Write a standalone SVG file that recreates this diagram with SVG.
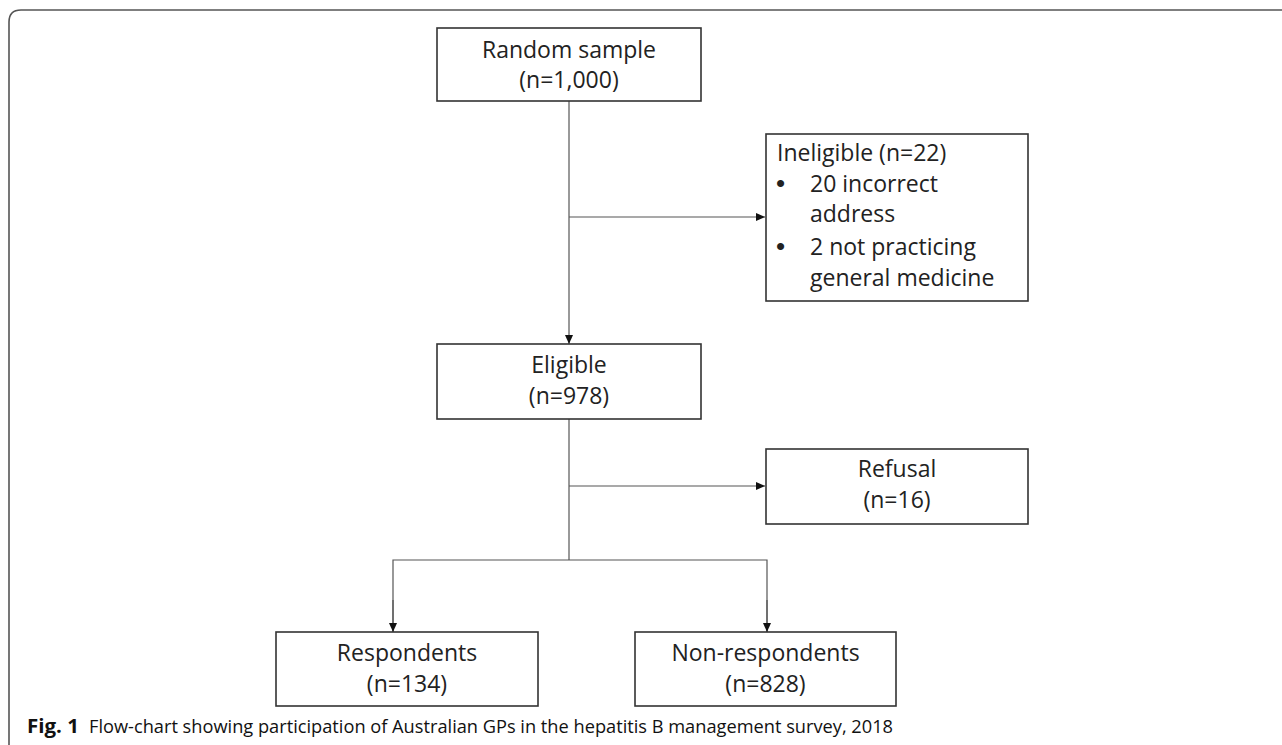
<svg xmlns="http://www.w3.org/2000/svg" width="1282" height="745" viewBox="0 0 1282 745">
<defs>
<style>
.box{fill:#fff;stroke:#333;stroke-width:1.6}
.t{font-family:"Open Sans","Liberation Sans",sans-serif;font-size:23px;fill:#222}
.b{font-family:"Liberation Sans","Open Sans",sans-serif;font-size:26px;fill:#222}
.c{text-anchor:middle}
.conn{fill:none;stroke:#555;stroke-width:1.2}
.cap{font-family:"Open Sans","Liberation Sans",sans-serif;font-size:19px;fill:#111}
</style>
<marker id="ah" markerWidth="10" markerHeight="10" refX="9" refY="4" orient="auto" markerUnits="userSpaceOnUse">
<path d="M0,0 L9,4 L0,8 Z" fill="#111"/>
</marker>
</defs>
<rect width="1282" height="745" fill="#fff"/>
<path d="M9,745 L9,22 Q9,10 21,10 L1282,10" fill="none" stroke="#555" stroke-width="1.6"/>
<g id="connectors">
<line class="conn" x1="569" y1="101" x2="569" y2="344" marker-end="url(#ah)"/>
<line class="conn" x1="569" y1="217" x2="765" y2="217" marker-end="url(#ah)"/>
<line class="conn" x1="569" y1="419" x2="569" y2="560"/>
<line class="conn" x1="569" y1="486" x2="765" y2="486" marker-end="url(#ah)"/>
<polyline class="conn" points="393,632 393,560 767,560 767,632"/>
<line class="conn" x1="393" y1="600" x2="393" y2="632" marker-end="url(#ah)"/>
<line class="conn" x1="767" y1="600" x2="767" y2="632" marker-end="url(#ah)"/>
</g>
<g id="random">
<rect class="box" x="437" y="28" width="264" height="73"/>
<text class="t c" x="569" y="58">Random sample</text>
<text class="t c" x="569" y="88">(n=1,000)</text>
</g>
<g id="ineligible">
<rect class="box" x="766" y="134" width="262" height="167"/>
<text class="t" x="777" y="161">Ineligible (n=22)</text>
<text class="b" x="776" y="192">•</text>
<text class="t" x="810" y="192">20 incorrect</text>
<text class="t" x="810" y="222">address</text>
<text class="b" x="776" y="255">•</text>
<text class="t" x="810" y="255">2 not practicing</text>
<text class="t" x="810" y="286">general medicine</text>
</g>
<g id="eligible">
<rect class="box" x="437" y="344" width="264" height="75"/>
<text class="t c" x="569" y="373">Eligible</text>
<text class="t c" x="569" y="404">(n=978)</text>
</g>
<g id="refusal">
<rect class="box" x="766" y="449" width="262" height="75"/>
<text class="t c" x="897" y="477">Refusal</text>
<text class="t c" x="897" y="508">(n=16)</text>
</g>
<g id="respondents">
<rect class="box" x="276" y="632" width="262" height="74"/>
<text class="t c" x="407" y="661">Respondents</text>
<text class="t c" x="407" y="692">(n=134)</text>
</g>
<g id="nonrespondents">
<rect class="box" x="635" y="632" width="261" height="74"/>
<text class="t c" x="765.5" y="661">Non-respondents</text>
<text class="t c" x="765.5" y="692">(n=828)</text>
</g>
<text class="cap" x="27" y="733" font-weight="bold" textLength="52" lengthAdjust="spacingAndGlyphs">Fig. 1</text>
<text class="cap" x="89" y="733" textLength="804" lengthAdjust="spacingAndGlyphs">Flow-chart showing participation of Australian GPs in the hepatitis B management survey, 2018</text>
</svg>
